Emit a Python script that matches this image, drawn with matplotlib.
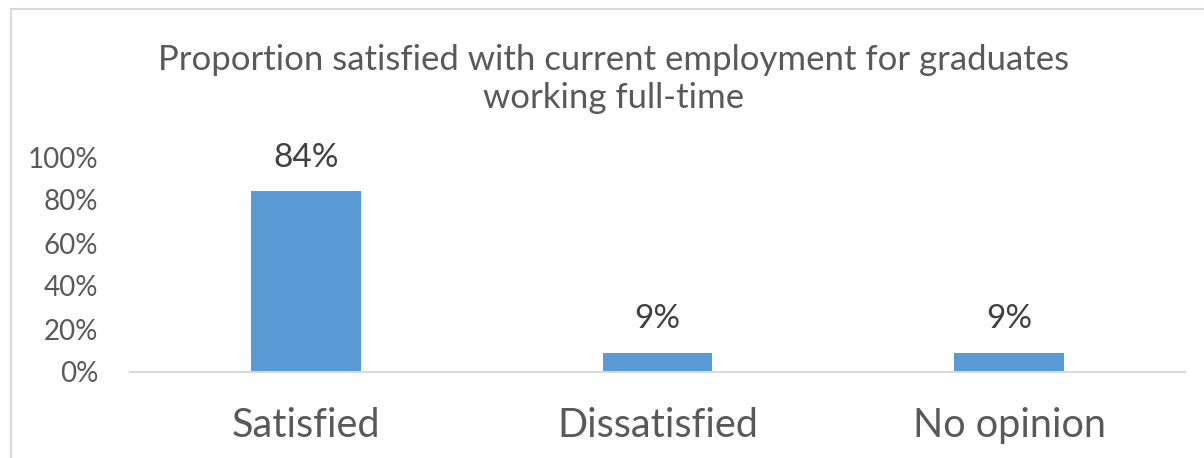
import matplotlib

matplotlib.use("Agg")
import matplotlib.pyplot as plt
from matplotlib.patches import Rectangle
from matplotlib.ticker import FuncFormatter

categories = ["Satisfied", "Dissatisfied", "No opinion"]
values = [0.84, 0.09, 0.09]
labels = ["84%", "9%", "9%"]
yticks = [0.0, 0.2, 0.4, 0.6, 0.8, 1.0]
title = "Proportion satisfied with current employment for graduates\nworking full-time"

W, H = 1204, 458
TEXT = "#595959"
BAR = "#5B9BD5"
plt.rcParams["font.family"] = ["Lato", "DejaVu Sans"]

fig = plt.figure(figsize=(W / 100, H / 100), dpi=100)
fig.patches.append(
    Rectangle((11 / W, -0.2), 1.2, 1.2 - 9 / H,
              transform=fig.transFigure, fill=False,
              edgecolor="#D9D9D9", linewidth=1.5)
)

ax = fig.add_axes([130 / W, 86 / H, (1185 - 130) / W, (372 - 157) / H])
x = range(len(categories))
ax.bar(x, values, width=0.3125, color=BAR)
ax.set_xlim(-0.5, len(categories) - 0.5)
ax.set_ylim(0, 1)

for xi, v, lab in zip(x, values, labels):
    ax.annotate(lab, (xi, v), xytext=(0, 24), textcoords="offset points",
                ha="center", va="center", fontsize=24, color="#404040")

ax.set_yticks(yticks)
ax.yaxis.set_major_formatter(FuncFormatter(lambda v, _: f"{v:.0%}"))
ax.tick_params(axis="y", length=0, pad=23, labelsize=20, labelcolor=TEXT)
ax.set_xticks(list(x), categories)
ax.tick_params(axis="x", length=0, pad=25, labelsize=28.5, labelcolor=TEXT)

for side in ("top", "right", "left"):
    ax.spines[side].set_visible(False)
ax.spines["bottom"].set_color("#D9D9D9")
ax.spines["bottom"].set_linewidth(1.5)

fig.text(614 / W, 1 - 79 / H, title, ha="center", va="center",
         fontsize=25, color=TEXT, linespacing=1.2)

fig.savefig("out.png", dpi=100)
